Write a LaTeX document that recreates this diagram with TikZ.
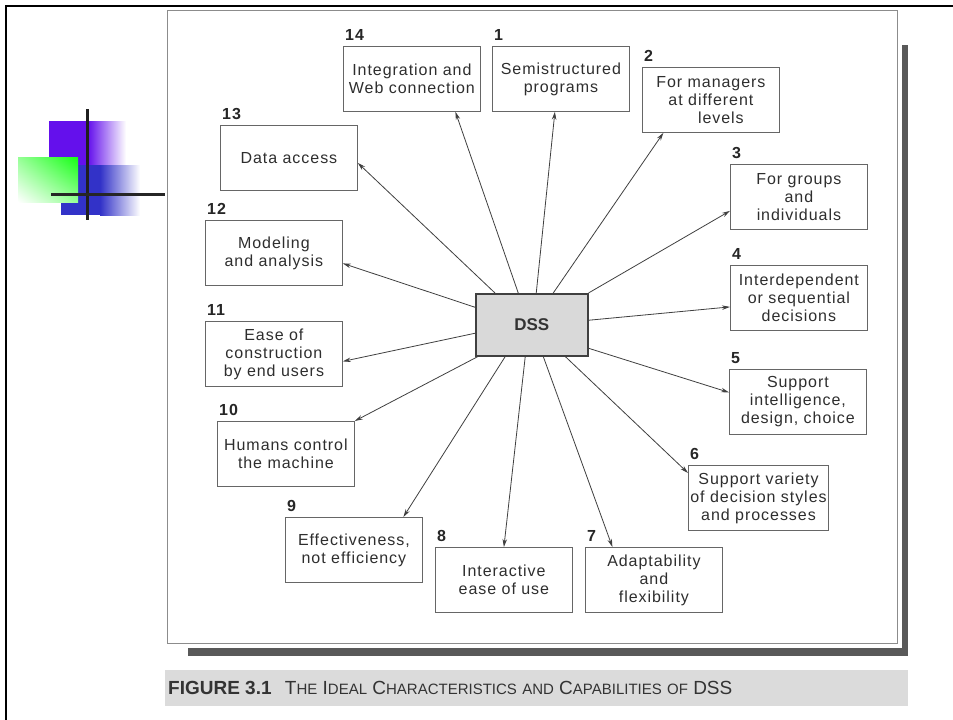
\documentclass[tikz,border=0pt]{standalone}
\usepackage{fontspec}
\setmainfont{Liberation Sans}
\newfontfamily\boxfont[LetterSpace=6]{Liberation Sans}
\newfontfamily\capfont{Liberation Sans}
\usetikzlibrary{arrows.meta,calc,shadings}
\definecolor{txt}{HTML}{2E2E2E}
\definecolor{purp}{RGB}{100,16,236}
\definecolor{blu}{RGB}{50,50,200}
\definecolor{grn}{RGB}{20,255,20}
\newcommand\smcap{\fontsize{15}{16}\selectfont}
\tikzset{
  box/.style={draw=black!60, line width=0.8pt, minimum width=137pt, minimum height=65pt,
    align=center, text=txt, inner sep=2pt, anchor=north west,
    font=\boxfont\fontsize{16}{18}\selectfont},
  num/.style={anchor=base west, inner sep=0pt, text=black!85,
    font=\boxfont\bfseries\fontsize{16}{18}\selectfont},
  dssbox/.style={draw=black!75, line width=1.5pt, fill=gray!30, minimum width=112pt,
    minimum height=62pt, anchor=north west, text=black!80,
    font=\bfseries\fontsize{17}{18}\selectfont},
  conn/.style={draw=black!75, line width=0.8pt, -{Stealth[length=8pt,width=4.5pt]}}
}
\begin{document}
\begin{tikzpicture}[x=1pt,y=-1pt]
\useasboundingbox (0,0) rectangle (953,720);
\fill[white] (0,0) rectangle (953,720);
% slide frame
\draw[line width=2.5pt, black] (6,720) -- (6,6) -- (953,6);
% decoration
\fill[purp] (49,121) rectangle (88,165);
\shade[left color=purp, right color=white] (88,121) rectangle (126,165);
\fill[blu] (61,165) rectangle (100,215);
\shade[left color=blu, right color=white] (100,165) rectangle (140,215);
\shade[upper right=grn, upper left=grn!45!white, lower right=grn!45!white, lower left=white]
  (18,157) rectangle (78,202);
\draw[line width=3pt, black!88] (87,109) -- (87,220);
\draw[line width=3pt, black!85] (51,194) -- (165,194);
% figure frame and shadow
\fill[black!65] (902,45) rectangle (908,656);
\fill[black!65] (188,648) rectangle (908,656);
\draw[black!45, line width=0.8pt] (167,10) rectangle (897,643);
% caption bar
\fill[gray!28] (165,670) rectangle (908,706);
\node[anchor=west, inner sep=0pt, text=black!80, font=\capfont\fontsize{19}{20}\selectfont] (cap) at (168,688)
  {\textbf{FIGURE 3.1}\hspace{0.7em}T{\smcap HE} I{\smcap DEAL} C{\smcap HARACTERISTICS} {\smcap AND} C{\smcap APABILITIES} {\smcap OF} DSS};
% DSS
\node[dssbox] (dss) at (475,293) {DSS};
% boxes
\node[box] (b14) at (343,46) {Integration and\\Web connection};
\node[box] (b1) at (492,46) {Semistructured\\programs};
\node[box] (b2) at (642,67) {For managers\\at different\\\hspace*{20pt}levels};
\node[box] (b3) at (730,164) {For groups\\and\\individuals};
\node[box] (b4) at (730,265) {Interdependent\\or sequential\\decisions};
\node[box] (b5) at (729,369) {Support\\intelligence,\\design, choice};
\node[box] (b6) at (688,465) {Support variety\\of decision styles\\and processes};
\node[box] (b7) at (585,547) {Adaptability\\and\\flexibility};
\node[box] (b8) at (435,547) {Interactive\\ease of use};
\node[box] (b9) at (285,517) {Effectiveness,\\not efficiency};
\node[box] (b10) at (217,421) {Humans control\\the machine};
\node[box] (b11) at (205,321) {Ease of\\construction\\by end users};
\node[box] (b12) at (205,220) {Modeling\\and analysis};
\node[box] (b13) at (220,125) {Data access};
% numbers
\foreach \b/\t in {b14/14,b1/1,b2/2,b3/3,b4/4,b5/5,b6/6,b7/7,b8/8,b9/9,b10/10,b11/11,b12/12,b13/13}
  \node[num] (n\t) at ([shift={(2pt,6pt)}]\b.north west) {\t};
% connectors
\draw[conn] ([xshift=4.5pt]dss.north) -- ([xshift=-6pt]b1.south);
\draw[conn] ([xshift=21.5pt]dss.north) -- ([xshift=-47.5pt]b2.south);
\draw[conn] (dss.north east) -- ([yshift=-14pt]b3.west);
\draw[conn] ([yshift=4.5pt]dss.east) -- ([yshift=-9pt]b4.west);
\draw[conn] ([yshift=-23.5pt]dss.east) -- ([yshift=9.5pt]b5.west);
\draw[conn] ([xshift=33.5pt]dss.south) -- ([yshift=-8pt]b6.north west);
\draw[conn] ([xshift=11.5pt]dss.south) -- ([xshift=-41.5pt]b7.north);
\draw[conn] ([xshift=-6.5pt]dss.south) -- (b8.north);
\draw[conn] ([xshift=-26.5pt]dss.south) -- ([xshift=49.5pt]b9.north);
\draw[conn] ([xshift=3pt]dss.south west) -- (b10.north east);
\draw[conn] ([yshift=-8.5pt]dss.west) -- ([yshift=-7.5pt]b11.east);
\draw[conn] ([yshift=17.5pt]dss.west) -- ([yshift=-10.5pt]b12.east);
\draw[conn] ([xshift=20pt]dss.north west) -- ([yshift=-5pt]b13.east);
\draw[conn] ([xshift=-13.5pt]dss.north) -- ([xshift=43.5pt]b14.south);
\end{tikzpicture}
\end{document}
